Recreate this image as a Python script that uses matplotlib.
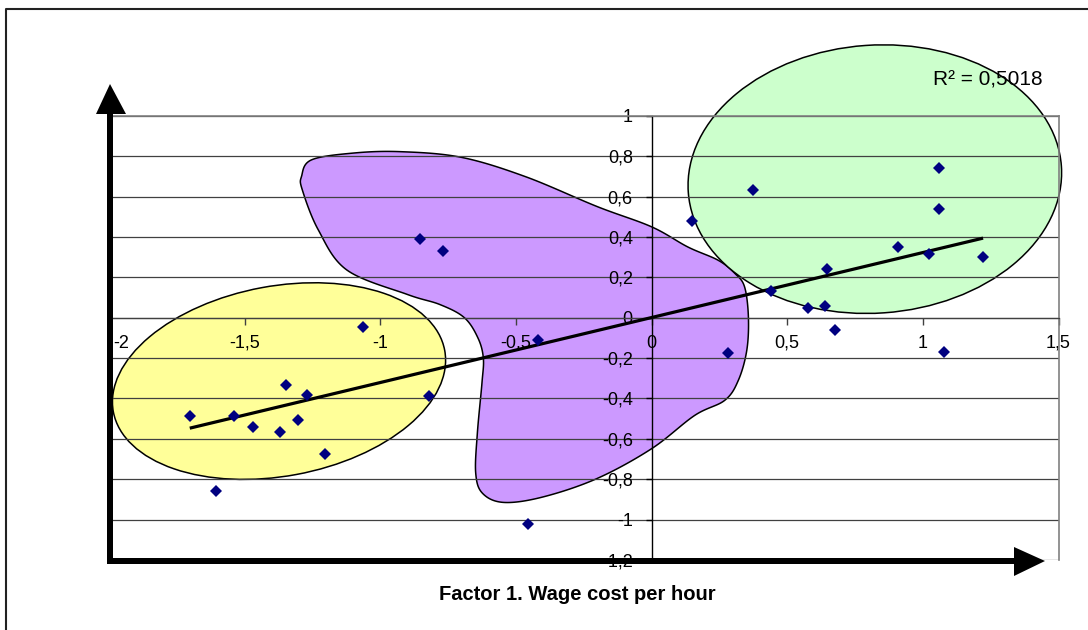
import numpy as np
import matplotlib
matplotlib.use('Agg')
import matplotlib.pyplot as plt
from matplotlib.patches import Ellipse, Polygon
from matplotlib.lines import Line2D
from matplotlib.transforms import Affine2D

plt.rcParams['font.family'] = ['Liberation Sans', 'DejaVu Sans']

# factor scores
factor1 = [-1.702, -1.607, -1.539, -1.470, -1.348, -1.368, -1.303, -1.271, -1.202, -1.063, -0.822,
           -0.855, -0.767, -0.419, -0.456,
           0.148, 0.281, 0.374, 0.439, 0.576, 0.641, 0.646, 0.675, 0.907, 1.021, 1.058, 1.058, 1.077, 1.222]
factor2 = [-0.489, -0.857, -0.489, -0.541, -0.332, -0.567, -0.506, -0.381, -0.675, -0.046, -0.390,
           0.391, 0.332, -0.111, -1.023,
           0.481, -0.177, 0.631, 0.132, 0.048, 0.058, 0.240, -0.060, 0.350, 0.314, 0.740, 0.540, -0.168, 0.298]

x_ticks = [-2, -1.5, -1, -0.5, 0, 0.5, 1, 1.5]
y_ticks = [-1.2, -1, -0.8, -0.6, -0.4, -0.2, 0, 0.2, 0.4, 0.6, 0.8, 1]
r2_label = 'R\u00b2 = 0,5018'
x_title = 'Factor 1. Wage cost per hour'

# outline of the purple group (data coords)
blob = [(-1.29, 0.70), (-1.254, 0.781), (-1.10, 0.815), (-0.925, 0.822), (-0.701, 0.794),
        (-0.464, 0.698), (-0.200, 0.550), (0.000, 0.450), (0.134, 0.350), (0.246, 0.284),
        (0.308, 0.218), (0.343, 0.152), (0.357, 0.003), (0.351, -0.162), (0.320, -0.310),
        (0.270, -0.409), (0.159, -0.484), (0.000, -0.649), (-0.200, -0.796), (-0.398, -0.887),
        (-0.543, -0.915), (-0.622, -0.871), (-0.648, -0.771), (-0.642, -0.572), (-0.625, -0.323),
        (-0.62, -0.20), (-0.64, -0.10), (-0.69, 0.0), (-0.78, 0.065), (-0.90, 0.115),
        (-1.123, 0.236), (-1.228, 0.434), (-1.287, 0.632)]

W, H = 1088, 630
fig = plt.figure(figsize=(W / 100, H / 100), dpi=100)
ax_pos = [0.1001, 0.1111, 0.8728, 0.7052]
ax = fig.add_axes(ax_pos)
ax.set_xlim(-2, 1.5)
ax.set_ylim(-1.2, 1)

# pixels per data unit
sx = W * ax_pos[2] / 3.5
sy = H * ax_pos[3] / 2.2


def smooth_closed(pts, n=20):
    p = np.asarray(pts)
    m = len(p)
    t = np.linspace(0, 1, n, endpoint=False)[:, None]
    out = []
    for i in range(m):
        p0, p1, p2, p3 = p[i - 1], p[i], p[(i + 1) % m], p[(i + 2) % m]
        out.append(0.5 * (2 * p1 + (-p0 + p2) * t + (2 * p0 - 5 * p1 + 4 * p2 - p3) * t ** 2
                          + (-p0 + 3 * p1 - 3 * p2 + p3) * t ** 3))
    return np.vstack(out)


def px_ellipse(cx, cy, a, b, ang, color, z):
    # a, b in pixels, centre in data units
    e = Ellipse((0, 0), 2 * a, 2 * b, angle=ang, facecolor=color, edgecolor='black',
                lw=1.1, zorder=z, clip_on=False)
    e.set_transform(Affine2D().scale(1 / sx, 1 / sy).translate(cx, cy) + ax.transData)
    ax.add_patch(e)


ax.add_patch(Polygon(smooth_closed(blob), closed=True, facecolor='#CC99FF', edgecolor='black',
                     lw=1.1, zorder=0.4, clip_on=False))
px_ellipse(-1.373, -0.314, 168.5, 95, 10.5, '#FFFF99', 0.5)
px_ellipse(0.823, 0.686, 187, 134, 4, '#CCFFCC', 0.5)

# trend line
k, c = np.polyfit(factor1, factor2, 1)
xs = np.array([min(factor1), max(factor1)])
ax.plot(xs, k * xs + c, color='black', lw=2.3, zorder=3, solid_capstyle='butt')

ax.plot(factor1, factor2, 'D', color='#000080', ms=6, mew=0, zorder=4)

# axes
ax.set_yticks(y_ticks, [f'{v:g}'.replace('.', ',') for v in y_ticks])
ax.set_xticks(x_ticks, [])
ax.yaxis.grid(True, color='#404040', lw=0.9)
ax.spines['left'].set_position(('data', 0))
ax.spines['bottom'].set_position(('data', 0))
ax.spines['left'].set_color('black')
ax.spines['left'].set_linewidth(1)
ax.spines['bottom'].set_color('#404040')
ax.spines['bottom'].set_linewidth(0.9)
for s in ['top', 'right']:
    ax.spines[s].set_color('#808080')
    ax.spines[s].set_linewidth(1.2)
ax.tick_params(axis='y', direction='out', length=4, width=1, pad=9.5, labelsize=13)
ax.tick_params(axis='x', direction='out', length=5, width=1, color='#404040')

# x tick labels sit under the zero line; the first one is nudged right as in the original
for i, v in enumerate(x_ticks):
    dx = 12 if i == 0 else 0
    ax.annotate(f'{v:g}'.replace('.', ','), xy=(v, 0), xytext=(dx, -25.5), textcoords='offset pixels',
                ha='center', va='center', fontsize=13, zorder=2, annotation_clip=False)


def fpx(x, y):
    return (x / W, 1 - y / H)


# thick arrows
arrow_kw = dict(facecolor='black', edgecolor='none', transform=fig.transFigure, zorder=10)
fig.add_artist(Polygon([fpx(107, 564), fpx(113, 564), fpx(113, 112), fpx(107, 112)], **arrow_kw))
fig.add_artist(Polygon([fpx(96, 114), fpx(126, 114), fpx(110, 84)], **arrow_kw))
fig.add_artist(Polygon([fpx(107, 558), fpx(1016, 558), fpx(1016, 564), fpx(107, 564)], **arrow_kw))
fig.add_artist(Polygon([fpx(1014, 547), fpx(1014, 576), fpx(1045, 561)], **arrow_kw))

# outer frame
fig.add_artist(Line2D([6 / W, 6 / W, 1], [0, 1 - 9 / H, 1 - 9 / H], color='#222222', lw=1.5,
                      transform=fig.transFigure))

fig.text(577.5 / W, 1 - 594 / H, x_title, ha='center', va='center', fontsize=14.5, fontweight='bold')
fig.text(932.7 / W, 1 - 86 / H, r2_label, ha='left', va='baseline', fontsize=15)

fig.savefig('out.png', dpi=100)
